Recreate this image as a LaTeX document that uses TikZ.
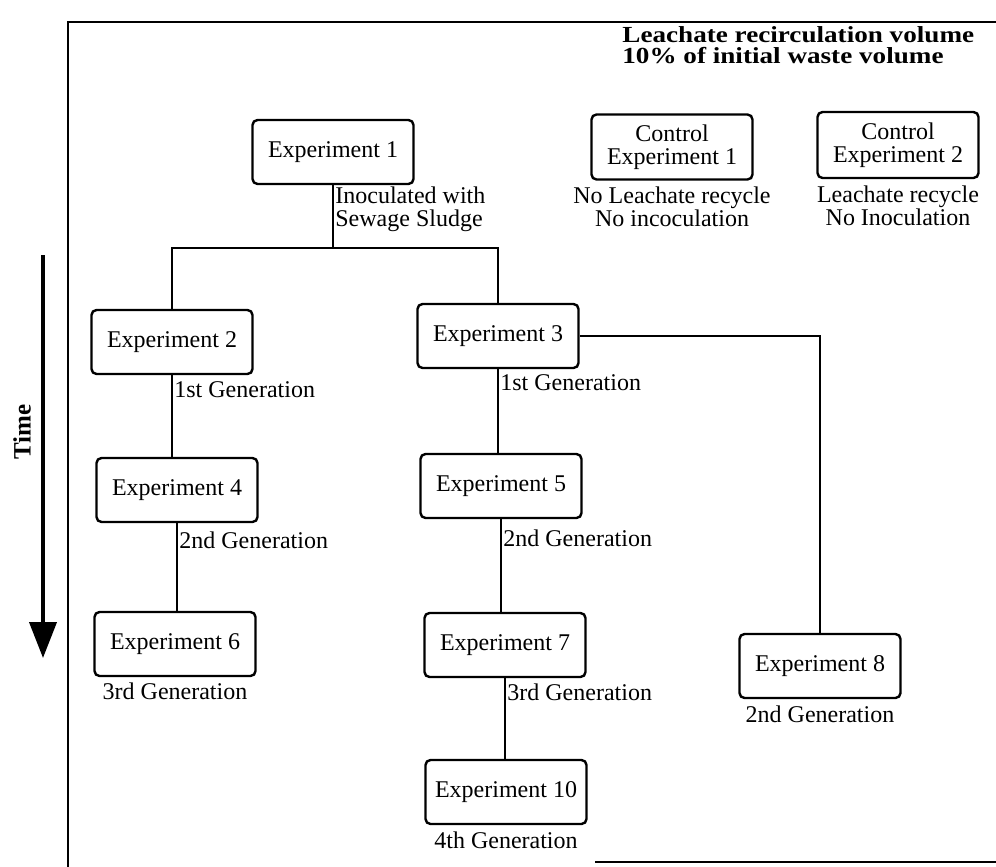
\documentclass[tikz,border=0pt]{standalone}
\usepackage{fontspec}
\setmainfont{Liberation Serif}
\newfontfamily\headfont[FakeStretch=1.18]{Liberation Serif}
\usetikzlibrary{positioning,arrows.meta}

\begin{document}
\begin{tikzpicture}[
  x=0.5pt, y=-0.5pt,
  font=\fontsize{12}{11.5}\selectfont,
  node distance=2pt,
  expbox/.style={draw, line width=1.2pt, rounded corners=2.5pt, minimum width=80.5pt, minimum height=32pt, align=center, inner sep=2pt},
  note/.style={align=center, inner sep=1pt},
  genlabel/.style={anchor=west, inner sep=1pt, align=left},
  headline/.style={anchor=base west, inner sep=0pt, font=\headfont\fontsize{11.5}{10.5}\selectfont\bfseries},
  link/.style={line width=1pt},
  frame/.style={line width=1pt}
]
  \useasboundingbox (0,0) rectangle (996,867);

  % frame
  \draw[frame] (996,22) -- (68,22) -- (68,867);
  \draw[frame] (595,862) -- (996,862);

  \node (head1) [headline] at (622,42) {Leachate recirculation volume};
  \node (head2) [headline] at (622,63) {10\% of initial waste volume};

  % time axis
  \coordinate (tstart) at (43,255);
  \coordinate (tend) at (43,658);
  \draw[line width=2pt, -{Triangle[width=13.5pt,length=18pt]}] (tstart) -- (tend);
  \node (time) [rotate=90, font=\fontsize{12.5}{12}\selectfont\bfseries] at (22,432) {Time};

  % experiments
  \node (e1) [expbox] at (333,152) {Experiment 1};
  \node (e2) [expbox] at (172,342) {Experiment 2};
  \node (e3) [expbox] at (498,336) {Experiment 3};
  \node (e4) [expbox] at (177,490) {Experiment 4};
  \node (e5) [expbox] at (501,486) {Experiment 5};
  \node (e6) [expbox] at (175,644) {Experiment 6};
  \node (e7) [expbox] at (505,645) {Experiment 7};
  \node (e8) [expbox] at (820,666) {Experiment 8};
  \node (e10) [expbox] at (506,792) {Experiment 10};

  \node (ce1) [expbox, minimum height=32.5pt] at (672,147) {Control\\Experiment 1};
  \node (ce2) [expbox, minimum height=33pt] at (898,145) {Control\\Experiment 2};

  % connectors
  \coordinate (split) at (333,248);
  \draw[link] (e1.south) -- (split);
  \draw[link] (e2.north) |- (split) -| (e3.north);
  \draw[link] (e2.south) -- (e2.south |- e4.north);
  \draw[link] (e4.south) -- (e4.south |- e6.north);
  \draw[link] (e3.south) -- (e3.south |- e5.north);
  \draw[link] (e5.south) -- (e5.south |- e7.north);
  \draw[link] (e7.south) -- (e7.south |- e10.north);
  \draw[link] (e3.east) -| (e8.north);

  % labels beside the lines
  \node (g1) [genlabel] at (333,209) {Inoculated with\\Sewage Sludge};
  \node (g2) [genlabel] at (172,390) {1st Generation};
  \node (g3) [genlabel] at (498,383) {1st Generation};
  \node (g4) [genlabel] at (177,540) {2nd Generation};
  \node (g5) [genlabel] at (501,538) {2nd Generation};
  \node (g7) [genlabel] at (505,692) {3rd Generation};

  % labels under the boxes
  \node (g6) [note, below=1.5pt of e6] {3rd Generation};
  \node (g8) [note, below=of e8] {2nd Generation};
  \node (g10) [note, below=of e10] {4th Generation};
  \node (n1) [note, below=of ce1] {No Leachate recycle\\No incoculation};
  \node (n2) [note, below=of ce2] {Leachate recycle\\No Inoculation};

\end{tikzpicture}
\end{document}
